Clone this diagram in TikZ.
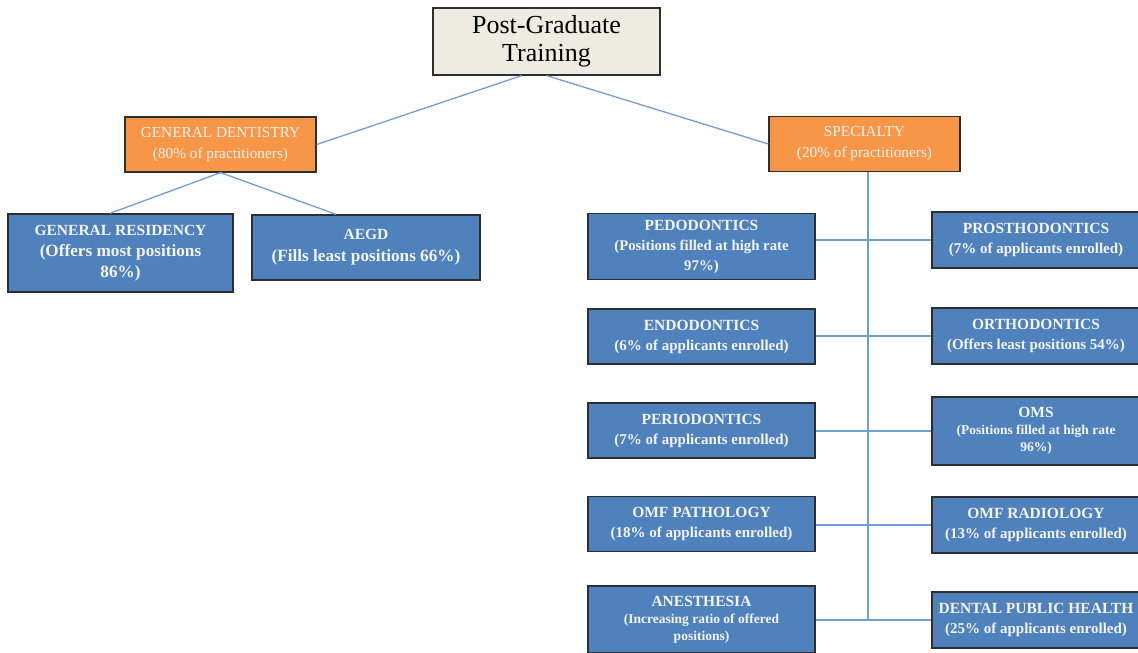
\documentclass[tikz,border=0pt]{standalone}
\usepackage{fontspec}
\setmainfont{Liberation Serif}

\definecolor{boxblue}{HTML}{4F81BD}
\definecolor{boxorange}{HTML}{F79646}
\definecolor{boxbeige}{HTML}{EEECE1}
\definecolor{boxedge}{HTML}{2E2E2E}
\definecolor{boxtext}{HTML}{F4F4F4}
\definecolor{linkblue}{HTML}{6F9FD8}

\newcommand{\gsize}{\fontsize{17.2}{21}\selectfont}
\newcommand{\ssize}{\fontsize{15}{20}\selectfont}
\newcommand{\psize}{\fontsize{14.8}{19}\selectfont}
\newcommand{\tsize}{\fontsize{13.5}{17}\selectfont}

\begin{document}
\begin{tikzpicture}
[x=1pt,y=-1pt,
 box/.style={draw=boxedge,line width=1.2pt,inner sep=0pt,align=center},
 topbox/.style={box,fill=boxbeige,font=\fontsize{26}{28}\selectfont,minimum width=227pt,minimum height=67pt},
 orangebox/.style={box,fill=boxorange,text=boxtext,font=\fontsize{15.3}{21}\selectfont,minimum width=191pt,minimum height=55pt},
 bluebox/.style={box,fill=boxblue,text=boxtext,font=\bfseries\fontsize{15.5}{20}\selectfont,minimum width=227pt,minimum height=55pt},
 rightbox/.style={bluebox,minimum width=208pt,minimum height=56pt},
 tight/.style={font=\bfseries\fontsize{15.5}{17}\selectfont},
 link/.style={draw=linkblue,line width=1.3pt}]
\clip (0,0) rectangle (1138,653);
\node[topbox] (pgt) at (546.5,41.5) {Post-Graduate\\Training};
\node[orangebox] (gd) at (220.5,144.5) {GENERAL DENTISTRY\\(80\% of practitioners)};
\node[orangebox] (spec) at (864.5,144) {SPECIALTY\\(20\% of practitioners)};
% general dentistry
\node[bluebox,font=\bfseries\fontsize{15.5}{21}\selectfont,minimum width=225pt,minimum height=78pt] (gr) at (120.5,253)
  {GENERAL RESIDENCY\\\gsize(Offers most positions\\\gsize 86\%)};
\node[bluebox,font=\bfseries\fontsize{15.5}{22}\selectfont,minimum width=228pt,minimum height=65pt] (aegd) at (366,247.5)
  {AEGD\\\gsize(Fills least positions 66\%)};
% specialty, left column
\node[bluebox,font=\bfseries\fontsize{15.5}{20}\selectfont,minimum height=66pt] (pedo) at (701.5,246.5) {PEDODONTICS\\\psize(Positions filled at high rate\\\psize 97\%)};
\node[bluebox] (endo) at (701.5,336.5) {ENDODONTICS\\\ssize(6\% of applicants enrolled)};
\node[bluebox] (perio) at (701.5,430.5) {PERIODONTICS\\\ssize(7\% of applicants enrolled)};
\node[bluebox] (omfp) at (701.5,524) {OMF PATHOLOGY\\\ssize(18\% of applicants enrolled)};
\node[bluebox,tight,minimum height=67pt] (anes) at (701.5,619.5) {ANESTHESIA\\\tsize(Increasing ratio of offered\\\tsize positions)};
% specialty, right column
\node[rightbox] (prost) at (1036,240) {PROSTHODONTICS\\\ssize(7\% of applicants enrolled)};
\node[rightbox] (ortho) at (1036,336) {ORTHODONTICS\\\ssize(Offers least positions 54\%)};
\node[rightbox,tight,minimum height=68pt] (oms) at (1036,431) {OMS\\\tsize(Positions filled at high rate\\\tsize 96\%)};
\node[rightbox] (omfr) at (1036,525) {OMF RADIOLOGY\\\ssize(13\% of applicants enrolled)};
\node[rightbox] (dph) at (1036,620) {DENTAL PUBLIC HEALTH\\\ssize(25\% of applicants enrolled)};
% connectors
\coordinate (trunk) at (868,620);
\draw[link] (pgt.234) -- (gd.east);
\draw[link] (pgt.south) -- (spec.west);
\draw[link] (gd.south) -- (gr.105);
\draw[link] (gd.south) -- (aegd.132);
\draw[link] (spec.south -| trunk) -- (trunk);
\foreach \l/\r in {pedo/prost,endo/ortho,perio/oms,omfp/omfr,anes/dph}
\draw[link] (\l.east |- \r.west) -- (\r.west);
\end{tikzpicture}
\end{document}
